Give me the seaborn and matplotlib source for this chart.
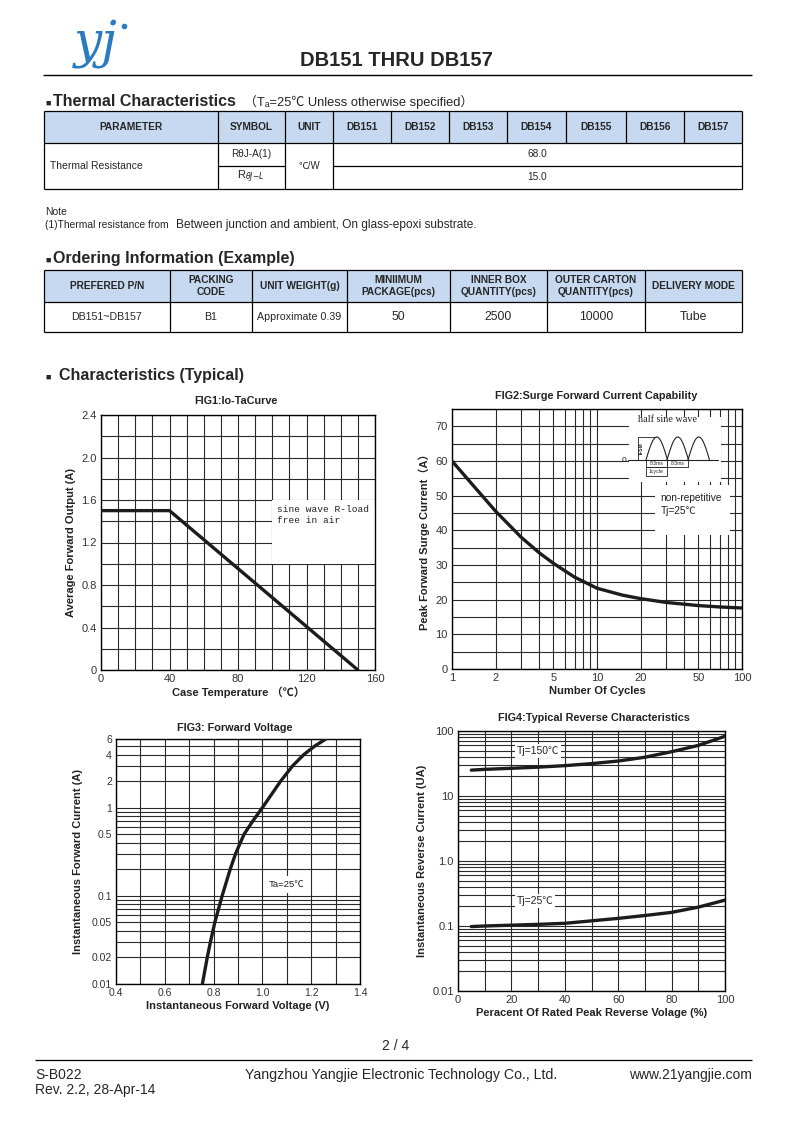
import numpy as np
import matplotlib
matplotlib.use("Agg")
import matplotlib.pyplot as plt
import seaborn as sns
from matplotlib.patches import Rectangle
from matplotlib.ticker import FixedLocator, FixedFormatter, NullFormatter

# ---- datos de las tablas ----
therm_header = ['PARAMETER', 'SYMBOL', 'UNIT', 'DB151', 'DB152', 'DB153',
                'DB154', 'DB155', 'DB156', 'DB157']
therm_param = 'Thermal Resistance'
therm_symbols = ['RθJ-A(1)', r'R$_{\theta J\mathrm{-}L}$']
therm_unit = '℃/W'
therm_values = ['68.0', '15.0']

order_header = ['PREFERED P/N', 'PACKING\nCODE', 'UNIT WEIGHT(g)', 'MINIIMUM\nPACKAGE(pcs)',
                'INNER BOX\nQUANTITY(pcs)', 'OUTER CARTON\nQUANTITY(pcs)', 'DELIVERY MODE']
order_row = ['DB151~DB157', 'B1', 'Approximate 0.39', '50', '2500', '10000', 'Tube']

# ---- datos de las curvas ----
# FIG1: Io - Ta
io_temp = [0, 40, 150]
io_current = [1.5, 1.5, 0.0]

# FIG2: surge current vs cycles
surge_cycles = [1, 1.5, 2, 3, 4, 5, 7, 10, 15, 20, 30, 50, 70, 100]
surge_current = [60, 51.5, 45.5, 38, 33.5, 30.5, 26.5, 23.3, 21.3, 20.3, 19.2, 18.3, 17.9, 17.6]

# FIG3: forward voltage
vf_volt = [0.754, 0.774, 0.787, 0.805, 0.835, 0.868, 0.89, 0.925, 0.96, 1.0, 1.075, 1.125, 1.17, 1.215, 1.26]
vf_curr = [0.01, 0.02, 0.03, 0.05, 0.1, 0.2, 0.3, 0.5, 0.7, 1.0, 2.0, 3.0, 4.0, 5.0, 6.0]

# FIG4: reverse characteristics
rev_pct = [5, 10, 20, 30, 40, 50, 60, 70, 80, 90, 100]
rev_150 = [25, 25.7, 26.7, 27.8, 29.3, 31.5, 34.5, 39.5, 48, 60, 83]
rev_25 = [0.098, 0.1, 0.103, 0.106, 0.11, 0.12, 0.131, 0.145, 0.162, 0.195, 0.25]

# ---- estilo ----
sns.set_theme(style="white")
plt.rcParams['font.family'] = ['Liberation Sans', 'Noto Sans CJK SC', 'DejaVu Sans']
plt.rcParams['axes.unicode_minus'] = False

W, H = 794, 1122
fig = plt.figure(figsize=(W / 100, H / 100), dpi=100)
page = fig.add_axes([0, 0, 1, 1])
page.set_xlim(0, W)
page.set_ylim(H, 0)
page.axis('off')


def box(l, t, r, b):
    return fig.add_axes([l / W, 1 - b / H, (r - l) / W, (b - t) / H])


def hl(y, x0, x1, lw=0.9):
    page.plot([x0, x1], [y, y], color='black', lw=lw, solid_capstyle='butt')


def vl(x, y0, y1, lw=0.9):
    page.plot([x, x], [y0, y1], color='black', lw=lw, solid_capstyle='butt')


# ---- cabecera ----
page.text(96, 44, 'yj', fontsize=36, style='italic', family='DejaVu Serif',
          color='#2b7bc0', ha='center', va='center')
page.plot([124], [26], 'o', color='#2b7bc0', ms=3)
page.text(396, 60, 'DB151 THRU DB157', fontsize=14.5, fontweight='bold', ha='center', va='center')
hl(75, 43, 752, lw=1.0)

# ---- Thermal Characteristics ----
page.text(45, 106, '■', fontsize=6.5, va='baseline')
page.text(53, 106, 'Thermal Characteristics', fontsize=11.5, fontweight='bold', va='baseline')
page.text(244, 106, '（Tₐ=25℃ Unless otherwise specified）', fontsize=9.3, va='baseline')

cols1 = [44, 218, 285, 333, 391, 449, 507, 566, 626, 684, 742]
page.add_patch(Rectangle((44, 111), 698, 32, fc='#c6d9f1', ec='none'))
hl(111, 44, 742)
hl(143, 44, 742)
hl(166, 218, 285)
hl(166, 333, 742)
hl(189, 44, 742)
for i, x in enumerate(cols1):
    if i in (0, 1, 2, 3, 10):
        vl(x, 111, 189)
    else:
        vl(x, 111, 143)
for i, h in enumerate(therm_header):
    page.text((cols1[i] + cols1[i + 1]) / 2, 127, h, fontsize=7.3, fontweight='bold',
              ha='center', va='center')
page.text(50, 166, therm_param, fontsize=7.5, va='center')
page.text(251, 154, therm_symbols[0], fontsize=7.2, ha='center', va='center')
page.text(251, 177, therm_symbols[1], fontsize=8, ha='center', va='center')
page.text(309, 166, therm_unit, fontsize=7, ha='center', va='center')
page.text(537, 154, therm_values[0], fontsize=7.3, ha='center', va='center')
page.text(537, 177, therm_values[1], fontsize=7.3, ha='center', va='center')

page.text(45, 212, 'Note', fontsize=7.5, va='center')
page.text(45, 225, '(1)Thermal resistance from', fontsize=7.4, va='center')
page.text(176, 225, 'Between junction and ambient, On glass-epoxi substrate.', fontsize=8.6, va='center')

# ---- Ordering Information ----
page.text(45, 263, '■', fontsize=6.5, va='baseline')
page.text(53, 263, 'Ordering Information (Example)', fontsize=11.5, fontweight='bold', va='baseline')

cols2 = [44, 170, 252, 347, 450, 547, 645, 742]
page.add_patch(Rectangle((44, 270), 698, 32, fc='#c6d9f1', ec='none'))
hl(270, 44, 742)
hl(302, 44, 742)
hl(332, 44, 742)
for x in cols2:
    vl(x, 270, 332)
for i, h in enumerate(order_header):
    page.text((cols2[i] + cols2[i + 1]) / 2, 286, h, fontsize=7.3, fontweight='bold',
              ha='center', va='center', linespacing=1.2)
for i, v in enumerate(order_row):
    fs = 8.8 if i >= 3 else 7.7
    page.text((cols2[i] + cols2[i + 1]) / 2, 317, v, fontsize=fs, ha='center', va='center')

# ---- Characteristics ----
page.text(45, 380, '■', fontsize=6.5, va='baseline')
page.text(59, 380, 'Characteristics (Typical)', fontsize=11.5, fontweight='bold', va='baseline')

fig_titles = [('FIG1:Io-TaCurve', 236, 401), ('FIG2:Surge Forward Current Capability', 596, 396),
              ('FIG3: Forward Voltage', 235, 728), ('FIG4:Typical Reverse Characteristics', 594, 718)]
for t, x, y in fig_titles:
    page.text(x, y, t, fontsize=7.8, fontweight='bold', ha='center', va='center', color='#222')

LINE = '#1c1c1c'
GRID = '#2a2a2a'


def style_ax(ax):
    ax.set_axisbelow(True)
    ax.grid(which='both', color=GRID, lw=0.8)
    ax.tick_params(which='both', length=0, labelsize=8, colors='#333', pad=3)
    for s in ax.spines.values():
        s.set_color('black')
        s.set_linewidth(1.0)
        s.set_visible(True)


lab = dict(fontsize=8, fontweight='bold', color='#222')

# FIG1
ax1 = box(101, 415, 375, 670)
sns.lineplot(x=io_temp, y=io_current, ax=ax1, color=LINE, lw=2.4, zorder=3)
ax1.set_xlim(0, 160)
ax1.set_ylim(0, 2.4)
ax1.set_xticks([0, 40, 80, 120, 160])
ax1.set_xticks(np.arange(0, 161, 10), minor=True)
ax1.set_yticks([0, 0.4, 0.8, 1.2, 1.6, 2.0, 2.4])
ax1.set_yticklabels(['0', '0.4', '0.8', '1.2', '1.6', '2.0', '2.4'])
ax1.set_yticks(np.arange(0, 2.41, 0.2), minor=True)
style_ax(ax1)
ax1.add_patch(Rectangle((100, 1.0), 60, 0.6, fc='white', ec='none', zorder=1))
ax1.text(103, 1.55, 'sine wave R-load\nfree in air', family='Liberation Mono', fontsize=6.8,
         va='top', linespacing=1.2, color='#222')
ax1.set_xlabel('Case Temperature （℃）', labelpad=2, **lab)
ax1.set_ylabel('Average Forward Output (A)', labelpad=4, **lab)

# FIG2
ax2 = box(452, 409, 742, 669)
sns.lineplot(x=surge_cycles, y=surge_current, ax=ax2, color=LINE, lw=2.4, zorder=3)
ax2.set_xscale('log')
ax2.set_xlim(1, 100)
ax2.set_ylim(0, 75)
ax2.xaxis.set_major_locator(FixedLocator([1, 2, 5, 10, 20, 50, 100]))
ax2.xaxis.set_major_formatter(FixedFormatter(['1', '2', '5', '10', '20', '50', '100']))
ax2.xaxis.set_minor_locator(FixedLocator([3, 4, 6, 7, 8, 9, 30, 40, 60, 70, 80, 90]))
ax2.xaxis.set_minor_formatter(NullFormatter())
ax2.set_yticks(np.arange(0, 71, 10))
ax2.set_yticks(np.arange(0, 76, 5), minor=True)
style_ax(ax2)
ax2.add_patch(Rectangle((16.6, 54.0), 72 - 16.6, 72.8 - 54.0, fc='white', ec='none', zorder=1))
ax2.add_patch(Rectangle((25.2, 38.7), 82.7 - 25.2, 53.1 - 38.7, fc='white', ec='none', zorder=1))
ax2.text(27.5, 50.8, 'non-repetitive\nTj=25℃', fontsize=7.3, va='top', linespacing=1.35, color='#222')
ax2.set_xlabel('Number Of Cycles', labelpad=2, **lab)
ax2.set_ylabel('Peak Forward Surge Current（A）', labelpad=4, **lab)

# dibujo de la media onda
ins = box(612, 412, 725, 482)
ins.set_xlim(612, 725)
ins.set_ylim(482, 412)
ins.axis('off')
ins.patch.set_alpha(0)
ins.text(668, 420, 'half sine wave', family='Liberation Serif', fontsize=7.3, ha='center',
         va='center', color='#222')
ins.plot([628, 718], [460, 460], color='#222', lw=0.8)
for s in [646, 667, 688]:
    xs = np.linspace(s, s + 21.5, 40)
    ins.plot(xs, 460 - 23 * np.sin(np.pi * (xs - s) / 21.5), color='#222', lw=0.8)
ins.text(626, 460, '0', fontsize=6, ha='right', va='center', color='#222')
ins.plot([638, 638], [437, 460], color='#222', lw=0.6)
ins.plot([638, 656], [437, 437], color='#222', lw=0.6)
ins.text(641.5, 448, 'IFSM', fontsize=3.5, rotation=90, ha='center', va='center', fontweight='bold')
for x0, y0, w, h, t in [(646, 460, 21, 7, '8.3ms'), (667, 460, 21, 7, '8.3ms'), (646, 467, 21, 9, '1cycle')]:
    ins.add_patch(Rectangle((x0, y0), w, h, fc='none', ec='#222', lw=0.6))
    ins.text(x0 + w / 2, y0 + h / 2, t, fontsize=3.7, ha='center', va='center', color='#222')

# FIG3
ax3 = box(116, 739, 360, 984)
sns.lineplot(x=vf_volt, y=vf_curr, ax=ax3, color=LINE, lw=2.4, zorder=3)
ax3.set_yscale('log')
ax3.set_xlim(0.4, 1.4)
ax3.set_ylim(0.01, 6)
ax3.set_xticks([0.4, 0.6, 0.8, 1.0, 1.2, 1.4])
ax3.set_xticklabels(['0.4', '0.6', '0.8', '1.0', '1.2', '1.4'])
ax3.set_xticks(np.arange(0.4, 1.41, 0.1), minor=True)
ax3.yaxis.set_major_locator(FixedLocator([0.01, 0.02, 0.05, 0.1, 0.5, 1, 2, 4, 6]))
ax3.yaxis.set_major_formatter(FixedFormatter(['0.01', '0.02', '0.05', '0.1', '0.5', '1', '2', '4', '6']))
ax3.yaxis.set_minor_locator(FixedLocator([0.03, 0.04, 0.06, 0.07, 0.08, 0.09, 0.2, 0.3, 0.4,
                                          0.6, 0.7, 0.8, 0.9, 3, 5]))
ax3.yaxis.set_minor_formatter(NullFormatter())
style_ax(ax3)
ax3.tick_params(which='both', labelsize=7.5)
ax3.text(1.025, 0.134, 'Ta=25℃', fontsize=6.8, va='center', color='#222',
         bbox=dict(fc='white', ec='none', pad=3))
ax3.set_xlabel('Instantaneous Forward Voltage (V)', labelpad=2, **lab)
ax3.set_ylabel('Instantaneous Forward Current (A)', labelpad=6, **lab)

# FIG4
ax4 = box(458, 731, 725, 991)
sns.lineplot(x=rev_pct, y=rev_150, ax=ax4, color=LINE, lw=2.4, zorder=3)
sns.lineplot(x=rev_pct, y=rev_25, ax=ax4, color=LINE, lw=2.4, zorder=3)
ax4.set_yscale('log')
ax4.set_xlim(0, 100)
ax4.set_ylim(0.01, 100)
ax4.set_xticks(np.arange(0, 101, 20))
ax4.set_xticks(np.arange(0, 101, 10), minor=True)
ax4.yaxis.set_major_locator(FixedLocator([0.01, 0.1, 1, 10, 100]))
ax4.yaxis.set_major_formatter(FixedFormatter(['0.01', '0.1', '1.0', '10', '100']))
minor4 = [m * d for d in [0.01, 0.1, 1, 10] for m in range(2, 10)]
ax4.yaxis.set_minor_locator(FixedLocator(minor4))
ax4.yaxis.set_minor_formatter(NullFormatter())
style_ax(ax4)
ax4.text(22, 49, 'Tj=150℃', fontsize=7.5, va='center', color='#222',
         bbox=dict(fc='white', ec='none', pad=1.5))
ax4.text(22, 0.24, 'Tj=25℃', fontsize=7.5, va='center', color='#222',
         bbox=dict(fc='white', ec='none', pad=1.5))
ax4.set_xlabel('Peracent Of Rated Peak Reverse Volage (%)', labelpad=2, **lab)
ax4.set_ylabel('Instantaneous Reverse Current (UA)', labelpad=4, **lab)

# ---- pie de pagina ----
page.text(396, 1046, '2 / 4', fontsize=10, ha='center', va='center')
hl(1060, 35, 752, lw=0.9)
page.text(35, 1075, 'S-B022', fontsize=10, va='center')
page.text(35, 1090, 'Rev. 2.2, 28-Apr-14', fontsize=10, va='center')
page.text(401, 1075, 'Yangzhou Yangjie Electronic Technology Co., Ltd.', fontsize=10.2,
          ha='center', va='center')
page.text(752, 1075, 'www.21yangjie.com', fontsize=10, ha='right', va='center')

fig.savefig('out.png', dpi=100)
